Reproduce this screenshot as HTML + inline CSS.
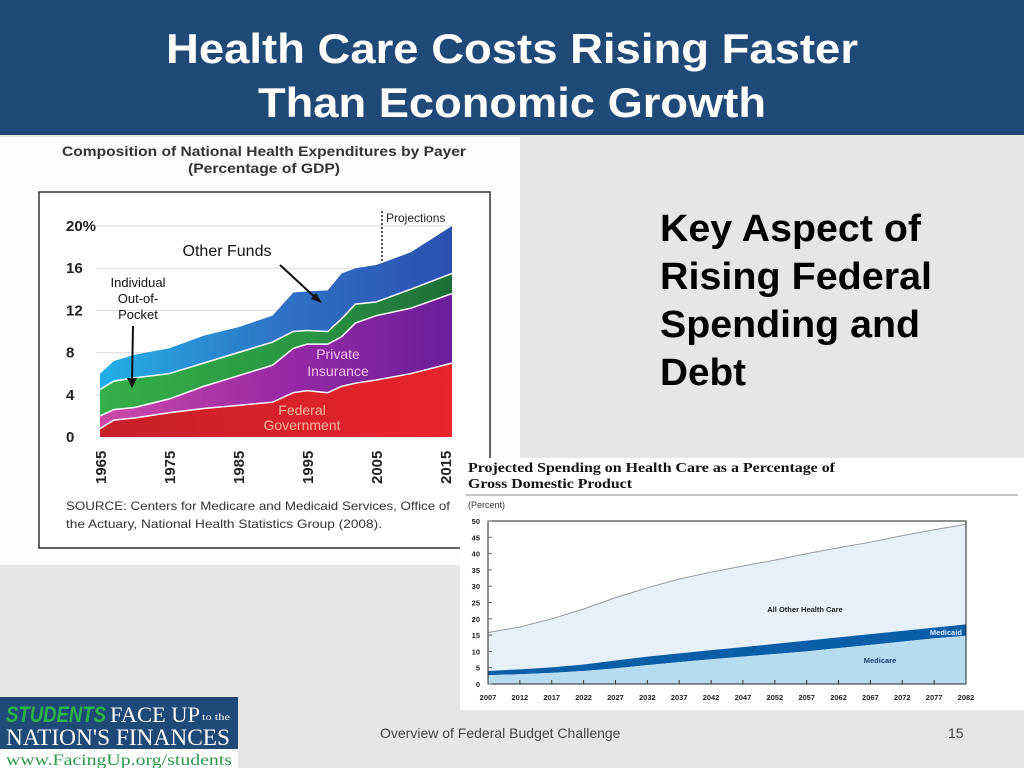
<!DOCTYPE html>
<html><head><meta charset="utf-8"><style>
body{margin:0;width:1024px;height:768px;overflow:hidden;background:#e6e6e6;font-family:"Liberation Sans",sans-serif}
svg{display:block}
</style></head><body>
<svg width="1024" height="768" viewBox="0 0 1024 768">
<defs>
<linearGradient id="gBlue" x1="0" x2="1" y1="0" y2="0"><stop offset="0" stop-color="#22b0e6"/><stop offset="0.5" stop-color="#2f74c6"/><stop offset="1" stop-color="#2c4fb2"/></linearGradient>
<linearGradient id="gGreen" x1="0" x2="1"><stop offset="0" stop-color="#35b04a"/><stop offset="0.6" stop-color="#2a9442"/><stop offset="1" stop-color="#1d6e36"/></linearGradient>
<linearGradient id="gPurple" x1="0" x2="1"><stop offset="0" stop-color="#cc4aa8"/><stop offset="0.5" stop-color="#9a2aa6"/><stop offset="1" stop-color="#6a1f99"/></linearGradient>
<linearGradient id="gRed" x1="0" x2="1"><stop offset="0" stop-color="#c8202a"/><stop offset="1" stop-color="#e8242c"/></linearGradient>
</defs>
<rect x="0" y="0" width="1024" height="135" fill="#1f4a78"/>
<text x="512" y="63" text-anchor="middle" font-size="42" font-weight="bold" fill="#fff" textLength="692" lengthAdjust="spacingAndGlyphs">Health Care Costs Rising Faster</text>
<text x="512" y="117" text-anchor="middle" font-size="42" font-weight="bold" fill="#fff" textLength="508" lengthAdjust="spacingAndGlyphs">Than Economic Growth</text>

<g font-size="38" font-weight="bold" fill="#000">
<text x="660" y="241" textLength="261" lengthAdjust="spacingAndGlyphs">Key Aspect of</text>
<text x="660" y="289" textLength="272" lengthAdjust="spacingAndGlyphs">Rising Federal</text>
<text x="660" y="337" textLength="260" lengthAdjust="spacingAndGlyphs">Spending and</text>
<text x="660" y="385" textLength="86" lengthAdjust="spacingAndGlyphs">Debt</text>
</g>

<!-- Left chart -->
<g>
<rect x="0" y="137" width="520" height="428" fill="#fdfdfd"/>
<text x="62" y="156" font-size="14" font-weight="bold" fill="#333" textLength="404" lengthAdjust="spacingAndGlyphs">Composition of National Health Expenditures by Payer</text>
<text x="264" y="173" text-anchor="middle" font-size="14" font-weight="bold" fill="#333" textLength="152" lengthAdjust="spacingAndGlyphs">(Percentage of GDP)</text>
<rect x="39" y="192" width="451" height="356" fill="#fff" stroke="#333" stroke-width="1.5"/>
<g id="leftGrid"></g>
<g id="leftAreas"></g>
<g id="leftTicks" font-size="15" font-weight="bold" fill="#222"></g>
<line x1="382" y1="211" x2="382" y2="264" stroke="#555" stroke-width="2" stroke-dasharray="2,2"/>
<text x="386" y="222" font-size="12" fill="#222">Projections</text>
<text x="227" y="256" text-anchor="middle" font-size="16" fill="#111">Other Funds</text>
<line x1="280" y1="265" x2="318" y2="300" stroke="#111" stroke-width="2"/>
<polygon points="322,303 311,299 316,293" fill="#111"/>
<g font-size="13" fill="#111" text-anchor="middle"><text x="138" y="287">Individual</text><text x="138" y="303">Out-of-</text><text x="138" y="319">Pocket</text></g>
<line x1="133" y1="326" x2="132" y2="382" stroke="#111" stroke-width="2"/>
<polygon points="132,388 127,378 137,378" fill="#111"/>
<g font-size="14" fill="#f2c0e6" text-anchor="middle"><text x="338" y="359">Private</text><text x="338" y="376">Insurance</text></g>
<g font-size="14" fill="#f7b0a0" text-anchor="middle"><text x="302" y="415">Federal</text><text x="302" y="430">Government</text></g>
<text x="66" y="510" font-size="12" fill="#333" textLength="384" lengthAdjust="spacingAndGlyphs">SOURCE: Centers for Medicare and Medicaid Services, Office of</text>
<text x="66" y="528" font-size="12" fill="#333" textLength="316" lengthAdjust="spacingAndGlyphs">the Actuary, National Health Statistics Group (2008).</text>
</g>

<!-- Right chart -->
<g>
<rect x="460" y="458" width="564" height="252" fill="#fff"/>
<text x="468" y="472" font-family="Liberation Serif,serif" font-size="14" font-weight="bold" fill="#111" textLength="367" lengthAdjust="spacingAndGlyphs">Projected Spending on Health Care as a Percentage of</text>
<text x="468" y="488" font-family="Liberation Serif,serif" font-size="14" font-weight="bold" fill="#111" textLength="164" lengthAdjust="spacingAndGlyphs">Gross Domestic Product</text>
<line x1="466" y1="495" x2="1018" y2="495" stroke="#888"/>
<text x="468" y="508" font-size="9" fill="#333">(Percent)</text>
<g id="rightAreas"></g>
<rect x="488" y="521" width="478" height="163" fill="none" stroke="#222" stroke-width="1"/>
<g id="rightTicks" font-size="7.5" font-weight="bold" fill="#222"></g>
<text x="805" y="612" text-anchor="middle" font-size="7.5" font-weight="bold" fill="#222">All Other Health Care</text>
<text x="962" y="635" text-anchor="end" font-size="7.5" font-weight="bold" fill="#dfeaff">Medicaid</text>
<text x="880" y="663" text-anchor="middle" font-size="7.5" font-weight="bold" fill="#1c3f6a">Medicare</text>
</g>

<!-- Logo -->
<g>
<rect x="0" y="697" width="238" height="52" fill="#1f4a78"/>
<text x="6" y="722" font-size="22" font-style="italic" font-weight="bold" fill="#2db24a" textLength="100" lengthAdjust="spacingAndGlyphs">STUDENTS</text>
<text x="110" y="722" font-family="Liberation Serif,serif" font-size="22" fill="#fff" textLength="90" lengthAdjust="spacingAndGlyphs">FACE UP</text>
<text x="202" y="720" font-family="Liberation Serif,serif" font-size="9" fill="#fff" textLength="28" lengthAdjust="spacingAndGlyphs">to the</text>
<text x="6" y="745" font-family="Liberation Serif,serif" font-size="23" fill="#fff" textLength="224" lengthAdjust="spacingAndGlyphs">NATION'S FINANCES</text>
<rect x="0" y="749" width="238" height="19" fill="#fff"/>
<text x="6" y="765" font-family="Liberation Serif,serif" font-size="16" fill="#2a9a4a" textLength="226" lengthAdjust="spacingAndGlyphs">www.FacingUp.org/students</text>
</g>
<text x="380" y="738" font-size="14" fill="#444">Overview of Federal Budget Challenge</text>
<text x="948" y="738" font-size="14" fill="#444">15</text>
</svg>
<script>
// Left chart data (cumulative % of GDP)
const leftYears=[1965,1967,1970,1975,1980,1985,1990,1993,1995,1998,2000,2002,2005,2010,2016];
const federal=[0.8,1.6,1.8,2.3,2.7,3.0,3.3,4.2,4.4,4.2,4.8,5.1,5.4,6.0,7.0];
const privateIns=[2.0,2.6,2.8,3.6,4.8,5.8,6.8,8.4,8.8,8.8,9.5,10.8,11.5,12.2,13.6];
const outOfPocket=[4.5,5.3,5.6,6.0,7.0,8.0,9.0,10.0,10.1,10.0,11.2,12.6,12.8,14.0,15.5];
const otherFunds=[6.0,7.2,7.8,8.4,9.6,10.4,11.5,13.7,13.8,13.9,15.5,16.0,16.3,17.5,20.0];
const leftYTicks=[0,4,8,12,16,20];
const leftYTickLabels=["0","4","8","12","16","20%"];
const leftXTicks=[1965,1975,1985,1995,2005,2015];

// Right chart data (cumulative % of GDP)
const rightYears=[2007,2012,2017,2022,2027,2032,2037,2042,2047,2052,2057,2062,2067,2072,2077,2082];
const medicare=[2.7,3.0,3.4,4.0,4.8,5.8,6.7,7.6,8.4,9.2,10.0,11.0,12.0,13.0,14.0,14.8];
const medicaid=[4.0,4.5,5.1,6.0,7.2,8.4,9.4,10.4,11.3,12.3,13.3,14.3,15.3,16.3,17.3,18.3];
const totalHealth=[15.8,17.5,20.0,23.0,26.5,29.5,32.2,34.3,36.2,38.0,40.0,41.8,43.5,45.5,47.3,49.0];
const rightYTicks=[0,5,10,15,20,25,30,35,40,45,50];

const NS="http://www.w3.org/2000/svg";
function mk(tag,attrs,parent){const e=document.createElementNS(NS,tag);for(const k in attrs)e.setAttribute(k,attrs[k]);parent.appendChild(e);return e;}

const lx=y=>100+(y-1965)*(452-100)/(2016-1965);
const ly=v=>437-v*(437-226)/20;
function areaPath(xs,top,bot,fx,fy){let d="M"+fx(xs[0])+","+fy(top[0]);for(let i=1;i<xs.length;i++)d+="L"+fx(xs[i])+","+fy(top[i]);for(let i=xs.length-1;i>=0;i--)d+="L"+fx(xs[i])+","+fy(bot?bot[i]:0);return d+"Z";}
function linePath(xs,v,fx,fy){return xs.map((x,i)=>(i?"L":"M")+fx(x)+","+fy(v[i])).join("");}
const lg=document.getElementById('leftGrid');
leftYTicks.forEach(t=>{if(t>0){const l=mk('line',{x1:96,x2:452,y1:ly(t),y2:ly(t),stroke:'#ddd'},lg);

}});
const la=document.getElementById('leftAreas');
const layers=[[otherFunds,outOfPocket,'url(#gBlue)','area-other-funds'],[outOfPocket,privateIns,'url(#gGreen)','area-out-of-pocket'],[privateIns,federal,'url(#gPurple)','area-private-insurance'],[federal,null,'url(#gRed)','area-federal-government']];
layers.forEach(([t,b,c,n])=>{const p=mk('path',{d:areaPath(leftYears,t,b,lx,ly),fill:c},la);

});
[federal,privateIns,outOfPocket].forEach(s=>{const p=mk('path',{d:linePath(leftYears,s,lx,ly),fill:'none',stroke:'#fff','stroke-width':1.5},la);

});
const lt=document.getElementById('leftTicks');
leftYTicks.forEach((t,i)=>{const e=mk('text',{x:66,y:ly(t)+5},lt);e.textContent=leftYTickLabels[i];

});
leftXTicks.forEach(t=>{const x=lx(t);const e=mk('text',{x:0,y:0,transform:`translate(${x+6},${484}) rotate(-90)`},lt);e.textContent=t;

});

const rx=y=>488+(y-2007)*(966-488)/(2082-2007);
const ry=v=>684-v*(684-521)/50;
const ra=document.getElementById('rightAreas');
const rl=[[totalHealth,medicaid,'#e6f1fb','area-all-other-health-care'],[medicaid,medicare,'#0a5ea8','area-medicaid'],[medicare,null,'#b6dcf2','area-medicare']];
rl.forEach(([t,b,c,n])=>{const p=mk('path',{d:areaPath(rightYears,t,b,rx,ry),fill:c},ra);

});
const tl=mk('path',{d:linePath(rightYears,totalHealth,rx,ry),fill:'none',stroke:'#999','stroke-width':1},ra);


const rt=document.getElementById('rightTicks');
rightYTicks.forEach(t=>{const e=mk('text',{x:480,y:ry(t)+3,'text-anchor':'end'},rt);e.textContent=t;


const l=mk('line',{x1:488,x2:492,y1:ry(t),y2:ry(t),stroke:'#666'},rt);

});
rightYears.forEach(y=>{const e=mk('text',{x:rx(y),y:700,'text-anchor':'middle'},rt);e.textContent=y;


const l=mk('line',{x1:rx(y),x2:rx(y),y1:684,y2:680,stroke:'#333'},rt);

});
</script>
</body></html>
